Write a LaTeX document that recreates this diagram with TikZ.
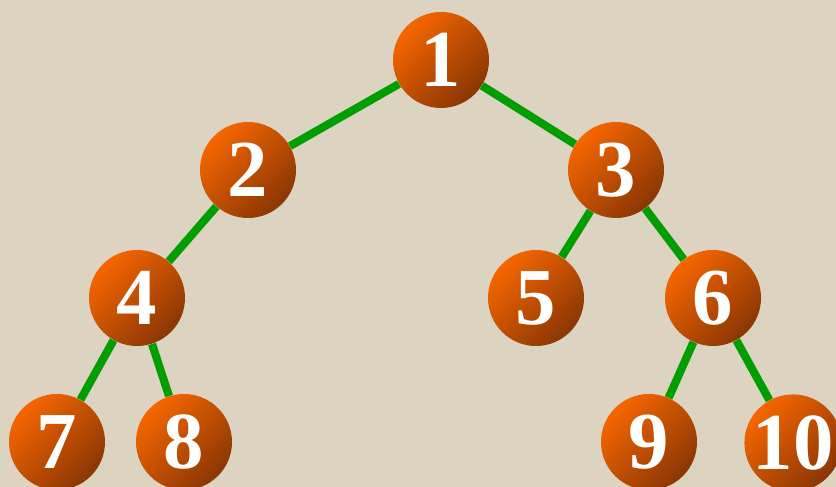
\documentclass[tikz,border=0pt]{standalone}
\usepackage{fontspec}
\setmainfont{Liberation Serif}
\usepackage{tikz}
\usetikzlibrary{positioning}
\definecolor{paper}{RGB}{220,211,193}
\definecolor{ballhi}{RGB}{246,102,0}
\definecolor{balllo}{RGB}{138,54,4}
\definecolor{twig}{RGB}{0,158,0}

\begin{document}
\begin{tikzpicture}[
    ball/.style={circle, minimum size=1.92cm, inner sep=0pt,
        shading=axis, top color=ballhi, bottom color=balllo, shading angle=45,
        text=white, font=\bfseries\fontsize{46}{46}\selectfont},
    twigline/.style={draw=twig, line width=4.6pt}
]
    % paper background
    \fill[paper] (0,0) rectangle (16.72,9.74);
    \useasboundingbox (0,0) rectangle (16.72,9.74);

    % heap nodes
    \node[ball] (n1) at (8.82, 8.54) {1};
    \node[ball] (n2) at (4.96, 6.34) {2};
    \node[ball] (n3) at (12.32, 6.34) {3};
    \node[ball] (n4) at (2.74, 3.78) {4};
    \node[ball] (n5) at (10.72, 3.78) {5};
    \node[ball] (n6) at (14.26, 3.78) {6};
    \node[ball] (n7) at (1.14, 0.90) {7};
    \node[ball] (n8) at (3.68, 0.90) {8};
    \node[ball] (n9) at (12.98, 0.90) {9};
    \node[ball] (n10) at (15.86, 0.88) {10};

    % parent-child links
    \foreach \p/\c in {1/2, 1/3, 2/4, 3/5, 3/6, 4/7, 4/8, 6/9, 6/10} {
        \draw[twigline] (n\p) -- (n\c);
    }
\end{tikzpicture}
\end{document}
